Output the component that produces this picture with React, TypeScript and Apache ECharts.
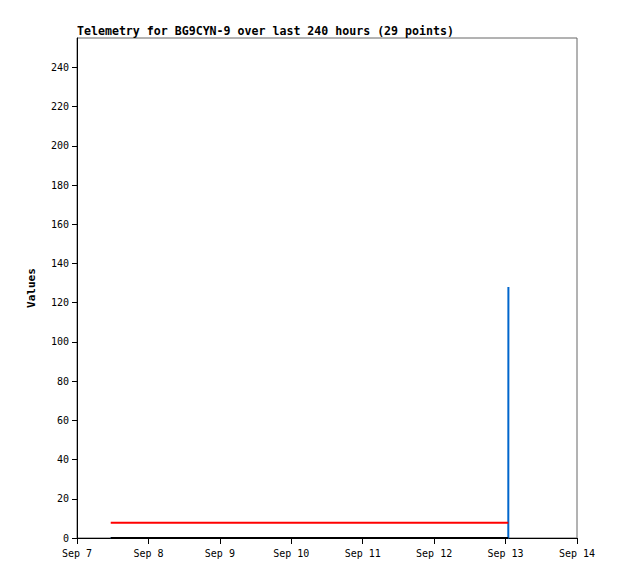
import React, { useEffect, useRef } from "react";
import * as echarts from "echarts";

const times: string[] = [
  "2024-09-07T11:20:00Z", "2024-09-07T16:05:00Z", "2024-09-07T20:40:00Z",
  "2024-09-08T01:15:00Z", "2024-09-08T05:55:00Z", "2024-09-08T10:30:00Z",
  "2024-09-08T15:10:00Z", "2024-09-08T19:45:00Z", "2024-09-09T00:20:00Z",
  "2024-09-09T05:00:00Z", "2024-09-09T09:35:00Z", "2024-09-09T14:15:00Z",
  "2024-09-09T18:50:00Z", "2024-09-09T23:30:00Z", "2024-09-10T04:05:00Z",
  "2024-09-10T08:45:00Z", "2024-09-10T13:20:00Z", "2024-09-10T18:00:00Z",
  "2024-09-10T22:35:00Z", "2024-09-11T03:15:00Z", "2024-09-11T07:50:00Z",
  "2024-09-11T12:30:00Z", "2024-09-11T17:05:00Z", "2024-09-11T21:45:00Z",
  "2024-09-12T02:20:00Z", "2024-09-12T07:00:00Z", "2024-09-12T14:35:00Z",
  "2024-09-13T00:55:00Z", "2024-09-13T00:57:00Z",
];
const redValues: number[] = [
  7.8, 7.8, 7.8, 7.8, 7.8, 7.8, 7.8, 7.8, 7.8, 7.8, 7.8, 7.8, 7.8, 7.8, 7.8,
  7.8, 7.8, 7.8, 7.8, 7.8, 7.8, 7.8, 7.8, 7.8, 7.8, 7.8, 7.8, 7.8, 7.8,
];
const blackValues: number[] = [
  0, 0, 0, 0, 0, 0, 0, 0, 0, 0, 0, 0, 0, 0, 0, 0, 0, 0, 0, 0, 0, 0, 0, 0, 0, 0, 0, 0, 0,
];
const blueValues: number[] = [
  0, 0, 0, 0, 0, 0, 0, 0, 0, 0, 0, 0, 0, 0, 0, 0, 0, 0, 0, 0, 0, 0, 0, 0, 0, 0, 0, 0, 128,
];
const xStart = "2024-09-07T00:00:00Z";
const xEnd = "2024-09-14T00:00:00Z";
const monthNames = ["Jan", "Feb", "Mar", "Apr", "May", "Jun", "Jul", "Aug", "Sep", "Oct", "Nov", "Dec"];

const titleText = "Telemetry for BG9CYN-9 over last 240 hours (29 points)";
const yName = "Values";

const mono = "'DejaVu Sans Mono', 'Liberation Mono', monospace";

export default function App() {
  const ref = useRef<HTMLDivElement>(null);
  useEffect(() => {
    if (!ref.current) return;
    const chart = echarts.init(ref.current, undefined, { renderer: "svg" });
    const ts = times.map((t) => Date.parse(t));
    const pair = (vals: number[]) => ts.map((t, i) => [t, vals[i]]);
    chart.setOption({
      animation: false,
      backgroundColor: "#ffffff",
      title: {
        text: titleText,
        left: 72,
        top: 20,
        textStyle: { fontFamily: mono, fontSize: 11.6, fontWeight: "bold", color: "#000" },
      },
      grid: {
        left: 77,
        top: 38,
        width: 500,
        height: 500,
        show: true,
        borderColor: "#666",
        borderWidth: 1,
        backgroundColor: "transparent",
      },
      xAxis: {
        type: "value",
        min: Date.parse(xStart),
        max: Date.parse(xEnd),
        interval: 86400000,
        axisLine: { show: true, lineStyle: { color: "#000", width: 1 } },
        axisTick: { show: true, length: 6, lineStyle: { color: "#000" } },
        splitLine: { show: false },
        axisLabel: {
          fontFamily: mono,
          fontSize: 10,
          color: "#000",
          margin: 10,
          formatter: (v: number) => {
            const d = new Date(v);
            return monthNames[d.getUTCMonth()] + " " + d.getUTCDate();
          },
        },
      },
      yAxis: {
        type: "value",
        min: 0,
        max: 255,
        interval: 20,
        name: yName,
        nameLocation: "middle",
        nameGap: 40,
        nameTextStyle: { fontFamily: mono, fontSize: 11, fontWeight: "bold", color: "#000" },
        axisLine: { show: true, lineStyle: { color: "#000", width: 1 } },
        axisTick: { show: true, length: 5, lineStyle: { color: "#000" } },
        splitLine: { show: false },
        axisLabel: {
          fontFamily: mono,
          fontSize: 10,
          color: "#000",
          margin: 8,
          showMaxLabel: false,
        },
      },
      series: [
        {
          type: "line",
          data: pair(blueValues),
          showSymbol: false,
          lineStyle: { color: "#0066cc", width: 2 },
          z: 2,
        },
        {
          type: "line",
          data: pair(redValues),
          showSymbol: false,
          lineStyle: { color: "#ff0000", width: 2 },
          z: 3,
        },
        {
          type: "line",
          data: pair(blackValues),
          showSymbol: false,
          lineStyle: { color: "#000000", width: 2 },
          z: 4,
        },
      ],
    });
    return () => chart.dispose();
  }, []);
  return (
    <div
      ref={ref}
      style={{ position: "fixed", left: 0, top: 0, width: 618, height: 579, background: "#fff" }}
    />
  );
}
